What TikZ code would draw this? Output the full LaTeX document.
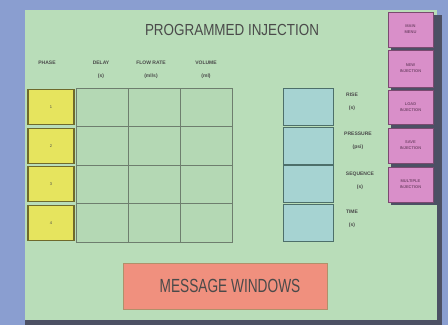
\documentclass[tikz,border=0pt]{standalone}
\usepackage{fontspec}
\setmainfont{Liberation Sans}
\definecolor{screenbg}{HTML}{8A9ED0}
\definecolor{panelgreen}{HTML}{B9DDB9}
\definecolor{panelshadow}{HTML}{4C5064}
\definecolor{phaseyellow}{HTML}{E6E45E}
\definecolor{phaseedge}{HTML}{6F6A2C}
\definecolor{cellgreen}{HTML}{B4D8B4}
\definecolor{celledge}{HTML}{6E7E6E}
\definecolor{paramblue}{HTML}{A6D3D2}
\definecolor{paramedge}{HTML}{4D6F6A}
\definecolor{menupink}{HTML}{D98FC9}
\definecolor{menuedge}{HTML}{7A4A70}
\definecolor{msgsalmon}{HTML}{F0907E}
\definecolor{msgedge}{HTML}{B0906A}
\definecolor{labeltext}{HTML}{4A4A4A}
\begin{document}
\begin{tikzpicture}[x=1pt, y=-1pt]
    % Define styles
    \tikzset{
        phase/.style={
            draw=phaseedge,
            fill=phaseyellow,
            line width=1.4pt,
            minimum width=46pt,
            minimum height=35pt,
            inner sep=0pt,
            font=\fontsize{4}{4}\selectfont,
            text=labeltext
        },
        cell/.style={
            draw=celledge,
            fill=cellgreen,
            line width=0.6pt,
            minimum width=52pt,
            minimum height=38.5pt,
            inner sep=0pt
        },
        param/.style={
            draw=paramedge,
            fill=paramblue,
            line width=1pt,
            minimum width=50pt,
            minimum height=37pt,
            inner sep=0pt
        },
        menu/.style={
            draw=menuedge,
            fill=menupink,
            line width=0.8pt,
            minimum width=45pt,
            inner sep=0pt,
            align=center,
            font=\bfseries\fontsize{4}{6}\selectfont,
            text=menuedge
        },
        heading/.style={
            align=center,
            inner sep=0pt,
            font=\bfseries\fontsize{5}{13}\selectfont,
            text=labeltext
        }
    }

    % Screen and panel
    \path[fill=screenbg] (0,0) rectangle (448,325);
    \path[fill=panelshadow] (25,15) rectangle (442,325);
    \node[fill=panelgreen, minimum width=412pt, minimum height=310pt, inner sep=0pt] (panel) at (231,165) {};

    % Title
    \node[inner sep=0pt, font=\fontsize{16}{16}\selectfont, text=labeltext, xscale=0.84] (title) at (232,30) {PROGRAMMED INJECTION};

    % Column headings
    \node[heading] (hphase) at (47,63) {PHASE};
    \node[heading] (hdelay) at (101,70) {DELAY\\(s)};
    \node[heading] (hflow) at (151,70) {FLOW RATE\\(ml/s)};
    \node[heading] (hvolume) at (206,70) {VOLUME\\(ml)};

    % Phase cells
    \node[phase] (p1) at (51,107.25) {1};
    \node[phase] (p2) at (51,145.75) {2};
    \node[phase] (p3) at (51,184.25) {3};
    \node[phase] (p4) at (51,222.75) {4};

    % Delay, flow rate and volume cells
    \node[cell] (d1) at (102,107.25) {};
    \node[cell] (d2) at (102,145.75) {};
    \node[cell] (d3) at (102,184.25) {};
    \node[cell] (d4) at (102,222.75) {};
    \node[cell] (f1) at (154,107.25) {};
    \node[cell] (f2) at (154,145.75) {};
    \node[cell] (f3) at (154,184.25) {};
    \node[cell] (f4) at (154,222.75) {};
    \node[cell] (v1) at (206,107.25) {};
    \node[cell] (v2) at (206,145.75) {};
    \node[cell] (v3) at (206,184.25) {};
    \node[cell] (v4) at (206,222.75) {};

    % Rise, pressure, sequence and time cells
    \node[param] (rise) at (308,107.25) {};
    \node[param] (pressure) at (308,145.75) {};
    \node[param] (sequence) at (308,184.25) {};
    \node[param] (time) at (308,222.75) {};
    \node[heading] (lrise) at (352,102) {RISE\\(s)};
    \node[heading] (lpressure) at (358,141) {PRESSURE\\(psi)};
    \node[heading] (lsequence) at (360,181) {SEQUENCE\\(s)};
    \node[heading] (ltime) at (352,219) {TIME\\(s)};

    % Menu buttons
    \path[fill=panelshadow] (391,15) rectangle (437,205);
    \node[menu, minimum height=35pt] (mainmenu) at (410.5,29.5) {MAIN\\MENU};
    \node[menu, minimum height=37pt] (newinj) at (410.5,68.5) {NEW\\INJECTION};
    \node[menu, minimum height=34pt] (loadinj) at (410.5,107) {LOAD\\INJECTION};
    \node[menu, minimum height=35pt] (saveinj) at (410.5,145.5) {SAVE\\INJECTION};
    \node[menu, minimum height=35pt] (multinj) at (410.5,184.5) {MULTIPLE\\INJECTION};

    % Message window
    \node[draw=msgedge, fill=msgsalmon, line width=1.2pt, minimum width=204pt, minimum height=46pt, inner sep=0pt] (message) at (225.5,286.5) {};
    \node[inner sep=0pt, font=\fontsize{19}{19}\selectfont, text=labeltext, xscale=0.72] (msgtext) at (230,286) {MESSAGE WINDOWS};
\end{tikzpicture}
\end{document}
